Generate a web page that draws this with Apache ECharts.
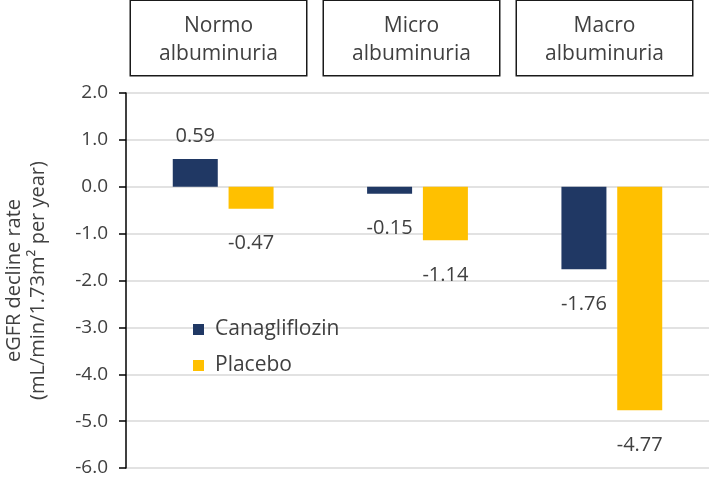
<!DOCTYPE html>
<html>
<head>
<meta charset="utf-8">
<script src="https://cdn.jsdelivr.net/npm/echarts@6/dist/echarts.min.js"></script>
<style>html,body{margin:0;padding:0;background:#fff}#c{width:709px;height:483px}</style>
</head>
<body>
<div id="c"></div>
<script>
const categories = ['Normo\nalbuminuria', 'Micro\nalbuminuria', 'Macro\nalbuminuria'];
const seriesNames = ['Canagliflozin', 'Placebo'];
const canagliflozin = [0.59, -0.15, -1.76];
const placebo = [-0.47, -1.14, -4.77];
const yTicks = { min: -6, max: 2, interval: 1 };
const yName = 'eGFR decline rate\n(mL/min/1.73m\u00B2 per year)';

const FONT = 'Open Sans';
const TXT = '#404040';
const colors = ['#203864', '#FFC000'];

function mk(vals) {
  return vals.map(v => ({
    value: v,
    label: { distance: v >= 0 ? 13 : 25 }
  }));
}

const chart = echarts.init(document.getElementById('c'), null, { renderer: 'canvas' });
chart.setOption({
  animation: false,
  textStyle: { fontFamily: FONT },
  grid: [
    { left: 126, right: 0, top: 93, bottom: 15, containLabel: false, outerBoundsMode: 'none' },
    { left: 122, right: 8, top: 78, height: 1, containLabel: false, outerBoundsMode: 'none' }
  ],
  legend: {
    orient: 'vertical',
    left: 188,
    top: 314,
    itemWidth: 11,
    itemHeight: 11,
    itemGap: 15,
    icon: 'rect',
    data: seriesNames,
    textStyle: { fontFamily: FONT, fontSize: 21, color: TXT, padding: [0, 0, 0, 6] }
  },
  xAxis: [
    {
      type: 'category', gridIndex: 0, data: categories,
      axisLine: { show: false }, axisTick: { show: false }, axisLabel: { show: false }
    },
    {
      type: 'category', gridIndex: 1, position: 'top', data: categories,
      axisLine: { show: false }, axisTick: { show: false },
      axisLabel: {
        interval: 0,
        margin: 3,
        fontFamily: FONT, fontSize: 21, color: TXT,
        lineHeight: 28,
        width: 175,
        align: 'center',
        padding: [11, 0, 7, 0],
        borderColor: '#1a1a1a',
        borderWidth: 1.5,
        backgroundColor: '#fff'
      }
    }
  ],
  yAxis: [
    {
      type: 'value', gridIndex: 0,
      min: yTicks.min, max: yTicks.max, interval: yTicks.interval,
      name: yName,
      nameLocation: 'middle',
      nameRotate: 90,
      nameGap: 76,
      nameTextStyle: { fontFamily: FONT, fontSize: 20, color: TXT, lineHeight: 24 },
      axisLine: { show: true, lineStyle: { color: '#000', width: 1.5 } },
      axisTick: { show: true, inside: false, length: 7, lineStyle: { color: '#000', width: 1.5 } },
      axisLabel: {
        margin: 18,
        fontFamily: FONT, fontSize: 19, color: TXT,
        formatter: v => v.toFixed(1)
      },
      splitLine: { show: true, lineStyle: { color: '#d9d9d9', width: 1.5 } }
    },
    {
      type: 'value', gridIndex: 1, show: false
    }
  ],
  series: [
    {
      name: seriesNames[0], type: 'bar', xAxisIndex: 0, yAxisIndex: 0,
      data: mk(canagliflozin),
      barWidth: 45, barGap: '24%',
      itemStyle: { color: colors[0] },
      label: {
        show: true, position: 'outside',
        fontFamily: FONT, fontSize: 20, color: TXT,
        formatter: p => p.value.toFixed(2)
      }
    },
    {
      name: seriesNames[1], type: 'bar', xAxisIndex: 0, yAxisIndex: 0,
      data: mk(placebo),
      barWidth: 45, barGap: '24%',
      itemStyle: { color: colors[1] },
      label: {
        show: true, position: 'outside',
        fontFamily: FONT, fontSize: 20, color: TXT,
        formatter: p => p.value.toFixed(2)
      }
    }
  ]
});
</script>
</body>
</html>
